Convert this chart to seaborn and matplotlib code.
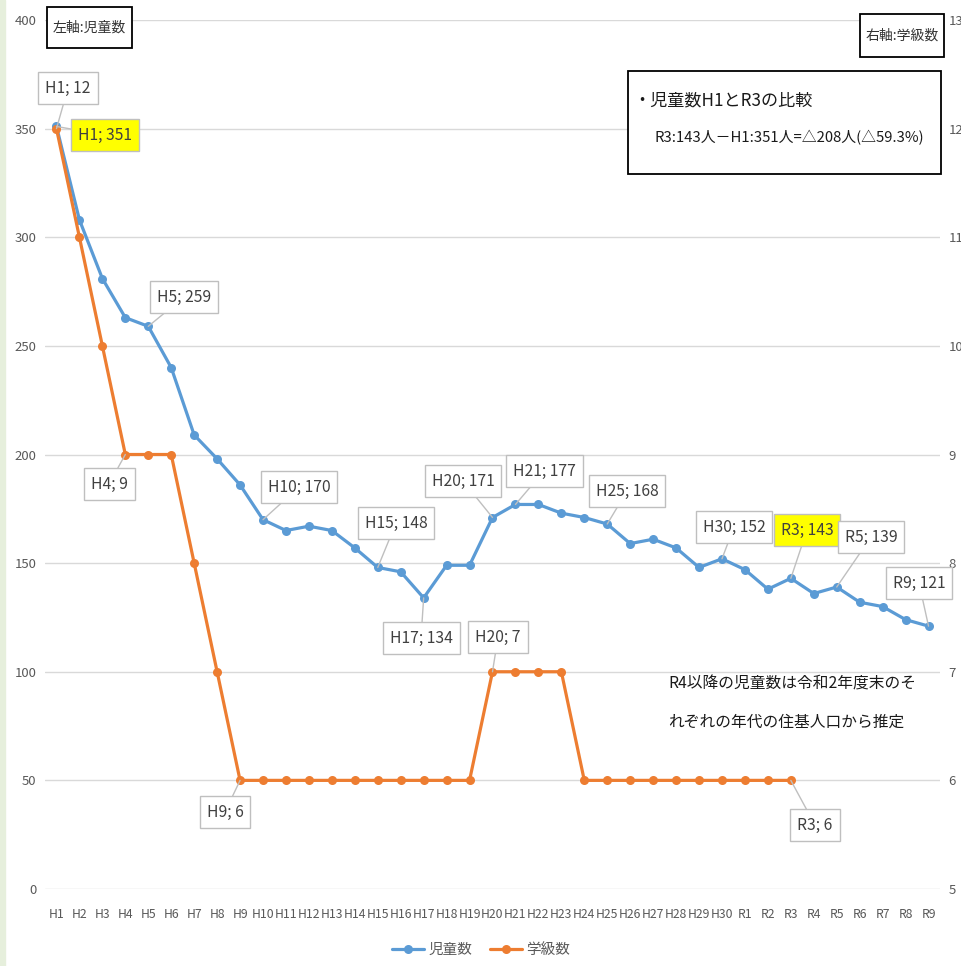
import numpy as np
import pandas as pd
import matplotlib
matplotlib.use('Agg')
import matplotlib.pyplot as plt
import seaborn as sns
from matplotlib.patches import Rectangle

# データ
years = ['H1', 'H2', 'H3', 'H4', 'H5', 'H6', 'H7', 'H8', 'H9', 'H10',
         'H11', 'H12', 'H13', 'H14', 'H15', 'H16', 'H17', 'H18', 'H19', 'H20',
         'H21', 'H22', 'H23', 'H24', 'H25', 'H26', 'H27', 'H28', 'H29', 'H30',
         'R1', 'R2', 'R3', 'R4', 'R5', 'R6', 'R7', 'R8', 'R9']
children = [351, 308, 281, 263, 259, 240, 209, 198, 186, 170,
            165, 167, 165, 157, 148, 146, 134, 149, 149, 171,
            177, 177, 173, 171, 168, 159, 161, 157, 148, 152,
            147, 138, 143, 136, 139, 132, 130, 124, 121]
classes = [12, 11, 10, 9, 9, 9, 8, 7, 6, 6,
           6, 6, 6, 6, 6, 6, 6, 6, 6, 7,
           7, 7, 7, 6, 6, 6, 6, 6, 6, 6,
           6, 6, 6, np.nan, np.nan, np.nan, np.nan, np.nan, np.nan]
left_ticks = [0, 50, 100, 150, 200, 250, 300, 350, 400]
right_ticks = [5, 6, 7, 8, 9, 10, 11, 12, 13]

BLUE = '#5B9BD5'
ORANGE = '#ED7D31'
GRID = '#d9d9d9'
TXT = '#595959'
W, H = 962, 966

sns.set_style('white')
plt.rcParams['font.family'] = ['Noto Sans CJK JP', 'DejaVu Sans']

df = pd.DataFrame({'pos': range(len(years)), 'year': years,
                   '児童数': children, '学級数': classes})

fig = plt.figure(figsize=(W / 100, H / 100), dpi=100)
fig.patches.append(Rectangle((0, 0), 5 / W, 1, transform=fig.transFigure,
                             color='#e6efdc', zorder=0))
ax = fig.add_axes([45 / W, 1 - 889 / H, 895 / W, 869 / H])

sns.lineplot(data=df, x='pos', y='児童数', ax=ax, color=BLUE, marker='o',
             markersize=6.5, markeredgewidth=0, linewidth=2.3, legend=False)
ax2 = ax.twinx()
sns.lineplot(data=df, x='pos', y='学級数', ax=ax2, color=ORANGE, marker='o',
             markersize=6.5, markeredgewidth=0, linewidth=2.3, legend=False)

ax.set_xlim(-0.5, len(years) - 0.5)
ax.set_ylim(0, 400)
ax2.set_ylim(5, 13)
ax.set_yticks(left_ticks)
ax2.set_yticks(right_ticks)
ax.set_xticks(range(len(years)))
ax.set_xticklabels(years)
ax.grid(axis='y', color=GRID, lw=1)
ax.grid(axis='x', visible=False)
ax2.grid(False)
for a in (ax, ax2):
    a.set_xlabel('')
    a.set_ylabel('')
    for s in a.spines.values():
        s.set_visible(False)
ax.tick_params(axis='x', length=0, pad=14, labelsize=8.8, colors=TXT)
ax.tick_params(axis='y', length=0, pad=6, labelsize=9.5, colors=TXT)
ax2.tick_params(axis='y', length=0, pad=6, labelsize=9.5, colors=TXT)

# 凡例
fig.legend(handles=[ax.lines[0], ax2.lines[0]], labels=['児童数', '学級数'],
           loc='center', bbox_to_anchor=(0.5, 1 - 950 / H), ncol=2,
           frameon=False, fontsize=10.5, labelcolor=TXT, handlelength=2.2,
           columnspacing=1.2, handletextpad=0.3)

# データラベル (index, box center x, y in pixels, highlight)
blue_callouts = [(0, 105, 135, True), (4, 184, 297, False), (9, 299, 487, False),
                 (14, 396, 523, False), (16, 421, 638, False), (19, 463, 481, False),
                 (20, 544, 471, False), (24, 627, 491, False), (29, 734, 527, False),
                 (32, 807, 530, True), (34, 871, 537, False), (38, 919, 583, False)]
orange_callouts = [(0, 68, 88), (3, 109, 484), (8, 225, 812), (19, 498, 637),
                   (32, 815, 825)]


def callout(text, xy, trans, bx, by, yellow=False):
    ax2.annotate(text, xy=xy, xycoords=trans, xytext=(bx, H - by),
                 textcoords='figure pixels', ha='center', va='center',
                 fontsize=11.3, color='#404040', zorder=10,
                 bbox=dict(boxstyle='square,pad=0.45',
                           fc='#ffff00' if yellow else 'white', ec='#bfbfbf', lw=1),
                 arrowprops=dict(arrowstyle='-', color='#bfbfbf', lw=1,
                                 shrinkA=0, shrinkB=0))


for i, bx, by, yl in blue_callouts:
    callout(f'{years[i]}; {children[i]}', (i, children[i]), ax.transData, bx, by, yl)
for i, bx, by in orange_callouts:
    callout(f'{years[i]}; {int(classes[i])}', (i, classes[i]), ax2.transData, bx, by)


def framed(x0, y0, x1, y1):
    fig.patches.append(Rectangle((x0 / W, 1 - y1 / H), (x1 - x0) / W, (y1 - y0) / H,
                                 transform=fig.transFigure, fc='white', ec='black',
                                 lw=1.3, zorder=2))


# 軸の説明
framed(47, 7, 132, 48)
fig.text(89.5 / W, 1 - 28 / H, '左軸:児童数', ha='center', va='center',
         fontsize=10, color='#333333', zorder=3)
framed(860, 14, 944, 57)
fig.text(902 / W, 1 - 35.5 / H, '右軸:学級数', ha='center', va='center',
         fontsize=10, color='#333333', zorder=3)

framed(628, 71, 941, 174)
fig.text(633 / W, 1 - 100 / H, '・児童数H1とR3の比較', ha='left', va='center',
         fontsize=12.3, color='#1a1a1a', zorder=3)
fig.text(655 / W, 1 - 138 / H, 'R3:143人－H1:351人=△208人(△59.3%)', ha='left',
         va='center', fontsize=10.7, color='#1a1a1a', zorder=3)

fig.text(668 / W, 1 - 684 / H, 'R4以降の児童数は令和2年度末のそ', ha='left',
         va='center', fontsize=11.3, color='#1a1a1a')
fig.text(668 / W, 1 - 722 / H, 'れぞれの年代の住基人口から推定', ha='left',
         va='center', fontsize=11.3, color='#1a1a1a')

fig.savefig('out.png', dpi=100)
